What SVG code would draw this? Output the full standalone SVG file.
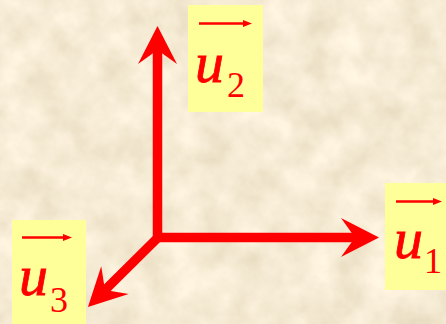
<svg xmlns="http://www.w3.org/2000/svg" width="446" height="324" viewBox="0 0 446 324">
  <style>
    .box { fill: #FFFF99; }
    .shaft { stroke: #FF0000; stroke-width: 9.5; fill: none; stroke-linecap: butt; }
    .vec { stroke: #FF0000; stroke-width: 2.5; fill: none; }
    .u { font-family: "Liberation Serif", "Times New Roman", serif; font-style: italic; font-size: 58px; fill: #FF0000; stroke: #FF0000; stroke-width: 0.8; }
    .sub { font-family: "Liberation Serif", "Times New Roman", serif; font-size: 36px; fill: #FF0000; }
  </style>
  <defs>
    <filter id="paper" x="0" y="0" width="100%" height="100%">
      <feTurbulence type="fractalNoise" baseFrequency="0.03" numOctaves="4" seed="7" result="n"/>
      <feColorMatrix in="n" type="matrix" values="0.3 0 0 0 0.77  0.3 0 0 0 0.68  0.34 0 0 0 0.49  0 0 0 0 1"/>
    </filter>
    <marker id="big" markerUnits="userSpaceOnUse" viewBox="-15 -21 40 42" markerWidth="40" markerHeight="42" refX="0" refY="0" orient="auto" overflow="visible">
      <path d="M24,0 L-14,-19.5 L0,0 L-14,19.5 Z" fill="#FF0000"/>
    </marker>
    <marker id="small" markerUnits="userSpaceOnUse" viewBox="-1 -4 11 8" markerWidth="11" markerHeight="8" refX="0" refY="0" orient="auto" overflow="visible">
      <path d="M9,0 L0,-3.6 L0,3.6 Z" fill="#FF0000"/>
    </marker>
  </defs>

  <rect width="446" height="324" fill="#E6D1A5"/>
  <rect width="446" height="324" filter="url(#paper)"/>

  <g id="connectors">
    <path class="shaft" d="M157.5,242 L157.5,50" marker-end="url(#big)"/>
    <path class="shaft" d="M153,237.5 L355,237.5" marker-end="url(#big)"/>
    <path class="shaft" d="M157,238.5 L105,290" marker-end="url(#big)"/>
  </g>

  <g id="u2">
    <rect class="box" x="188" y="5" width="75" height="107"/>
    <path class="vec" d="M199,23.5 L243,23.5" marker-end="url(#small)"/>
    <text class="u" x="195" y="82">u</text>
    <text class="sub" x="227" y="97">2</text>
  </g>

  <g id="u1">
    <rect class="box" x="385" y="183" width="61" height="107"/>
    <path class="vec" d="M396,201.5 L433,201.5" marker-end="url(#small)"/>
    <text class="u" x="394" y="258">u</text>
    <text class="sub" x="424" y="273">1</text>
  </g>

  <g id="u3">
    <rect class="box" x="12" y="220" width="74" height="104"/>
    <path class="vec" d="M22,237.5 L63,237.5" marker-end="url(#small)"/>
    <text class="u" x="19" y="295">u</text>
    <text class="sub" x="50" y="312">3</text>
  </g>
</svg>
